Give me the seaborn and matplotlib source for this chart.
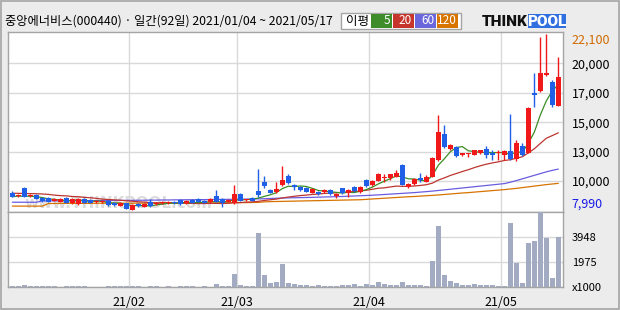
import numpy as np
import pandas as pd
import matplotlib
matplotlib.use("Agg")
import matplotlib.pyplot as plt
import seaborn as sns
from matplotlib import transforms
from matplotlib.patches import Rectangle

# ---------------- data ----------------
title = "중앙에너비스(000440) · 일간(92일) 2021/01/04 ~ 2021/05/17"

opens = [9410, 9150, 9790, 9130, 9250, 9010, 9010, 8770, 8670, 8970,
         8560, 8510, 8890, 8830, 8650, 8670, 8770, 8610, 8370, 8560,
         8030, 8490, 8290, 8690, 8510, 8550, 8560, 8690, 8830, 8560,
         8830, 8890, 8770, 8650, 9150, 8890, 8690, 8560, 9310, 8800,
         8970, 9550, 10240, 9630, 9490, 10030, 10750, 10030, 9890, 9810,
         9410, 9470, 9470, 9630, 9150, 9760, 9360, 9840, 9470, 10430,
         10030, 10370, 10560, 10550, 10680, 11630, 9840, 10110, 10590, 10290,
         10690, 12030, 14100, 12880, 13090, 12430, 12520, 12430, 12560, 12930,
         12610, 12590, 12430, 12770, 12080, 13170, 12610, 17400, 17540, 18820,
         18230, 16360]
highs = [9570, 9270, 9890, 9270, 9310, 9070, 9070, 8950, 8950, 9030,
         8950, 8950, 8950, 8870, 8790, 8790, 8830, 8670, 8630, 8590,
         8510, 8550, 8550, 8890, 8670, 8710, 8750, 8750, 8870, 8790,
         8870, 8950, 8830, 8950, 9630, 8950, 8870, 10030, 9350, 8910,
         9030, 11310, 10770, 9710, 10240, 11550, 10910, 10110, 9950, 9870,
         9750, 9510, 9670, 9670, 9350, 9790, 9680, 9910, 9910, 10510,
         10430, 10990, 10910, 10910, 11230, 11670, 10150, 10590, 11000, 10790,
         12270, 15620, 14820, 13300, 13140, 12620, 12610, 12860, 12860, 13140,
         12820, 12820, 12820, 15700, 13620, 13360, 16260, 18950, 21880, 22100,
         18420, 20250]
lows = [9050, 9070, 9050, 9070, 8870, 8670, 8630, 8710, 8630, 8550,
        8510, 8430, 8550, 8550, 8590, 8590, 8350, 8350, 8310, 8070,
        7990, 8270, 8270, 8270, 8430, 8510, 8510, 8470, 8430, 8510,
        8550, 8630, 8550, 8590, 8630, 8230, 8630, 8510, 8710, 8750,
        8710, 9090, 9760, 9350, 9360, 9950, 10110, 9630, 9510, 9430,
        9350, 9230, 9390, 9230, 8990, 9310, 9090, 9470, 9390, 9830,
        9910, 10310, 10290, 10430, 10630, 9990, 9790, 10030, 10290, 10230,
        10630, 11950, 13020, 12820, 12300, 12350, 12240, 12390, 12500, 12160,
        12030, 12030, 12030, 12030, 11970, 12350, 12560, 16240, 17460, 18740,
        16280, 16340]
closes = [9090, 9200, 9070, 9180, 8930, 8730, 8690, 8890, 8890, 8610,
          8890, 8890, 8610, 8610, 8750, 8750, 8410, 8430, 8560, 8110,
          8430, 8350, 8490, 8350, 8610, 8670, 8690, 8560, 8510, 8750,
          8610, 8690, 8610, 8890, 8690, 8560, 8830, 9290, 8770, 8850,
          8770, 9230, 9970, 9410, 9680, 10430, 10160, 9840, 9630, 9490,
          9680, 9310, 9630, 9290, 9310, 9360, 9630, 9520, 9840, 9950,
          10350, 10910, 10610, 10870, 11000, 10030, 10110, 10510, 10430, 10680,
          12160, 14260, 13090, 13220, 12370, 12560, 12570, 12820, 12820, 12430,
          12430, 12630, 12770, 12080, 13360, 12430, 16200, 17190, 18950, 19000,
          16420, 18680]
# volume, thousand shares
volumes = [80, 70, 180, 70, 80, 70, 70, 70, 60, 70,
           70, 80, 70, 60, 60, 60, 70, 70, 70, 80,
           80, 70, 60, 80, 70, 60, 70, 60, 70, 70,
           70, 60, 70, 60, 260, 100, 90, 1050, 185, 100,
           100, 4290, 970, 340, 420, 1840, 340, 260, 185, 185,
           100, 185, 100, 100, 100, 185, 185, 260, 100, 260,
           185, 420, 260, 185, 185, 420, 185, 185, 185, 100,
           2080, 4840, 970, 500, 340, 185, 185, 260, 185, 185,
           185, 100, 80, 5080, 1950, 340, 3500, 3660, 5923, 3900,
           740, 3970]
# 20-day average for the first 19 sessions (needs earlier data)
ma20_early = [9370, 9360, 9350, 9340, 9330, 9310, 9280, 9220, 9180, 9160,
              9110, 9090, 9040, 9010, 8960, 8900, 8870, 8840, 8810]
ma60 = [8650, 8650, 8650, 8650, 8650,
        8750, 8760, 8760, 8760, 8770, 8770, 8770, 8780, 8780, 8780, 8790,
        8790, 8790, 8800, 8800, 8800,
        8810, 8810, 8820, 8820, 8830, 8830, 8840, 8840, 8850, 8850,
        8860, 8860, 8870, 8870, 8880, 8880, 8890, 8900, 8900, 8910,
        8920, 8930, 8950, 8970, 8990, 9000, 9010, 9020, 9030, 9040,
        9060, 9070, 9080, 9100, 9110, 9130, 9150, 9170, 9190, 9210,
        9240, 9270, 9300, 9330, 9360, 9390, 9420, 9460, 9500, 9540,
        9590, 9640, 9690, 9740, 9790, 9840, 9890, 9940, 9990, 10040,
        10090, 10140, 10250, 10380, 10520, 10660, 10800, 10940, 11080, 11200,
        11300]
ma120 = [8340, 8340, 8340, 8340, 8340, 8340,
         8550, 8550, 8560, 8560, 8560, 8560, 8560, 8560, 8570, 8570,
         8570, 8570, 8570, 8570, 8570, 8580, 8580, 8580, 8580, 8580,
         8580, 8590, 8590, 8590, 8590, 8590, 8590, 8590,
         8600, 8600, 8610, 8610, 8620, 8620, 8630, 8640, 8680,
         8700, 8710, 8720, 8730, 8740, 8750,
         8760, 8770, 8780, 8790, 8800, 8810, 8820, 8830, 8840, 8850,
         8880, 8910, 8940, 8970, 9000, 9030,
         9060, 9090, 9110, 9140, 9170, 9200,
         9230, 9270, 9310, 9350, 9390, 9420, 9460, 9500, 9540, 9580,
         9620, 9660, 9710, 9760, 9820, 9880, 9940, 10000, 10060, 10110,
         10160]

month_start = [20, 38, 60, 82]
month_labels = ["21/02", "21/03", "21/04", "21/05"]
price_tick_labels = ["10,000", "13,000", "15,000", "17,000", "20,000"]
hi_label = "22,100"
lo_label = "7,990"
vol_tick_labels = ["x1000", "1975", "3948"]
ma_names = ["5", "20", "60", "120"]

# ---------------- styling ----------------
sns.set_style("white")
plt.rcParams['font.family'] = ['Noto Sans CJK KR', 'DejaVu Sans']

BG = '#ECECEC'
FRAME = '#A4A4A4'
GRID = '#D9D9D9'
UP = '#F01818'
DOWN = '#1F60E6'
VOLC = '#A2ABC2'
MA_COL = ['#3C8C26', '#BE3530', '#6A5CDF', '#D77300']
BOX_COL = ['#3E8C2A', '#C6352B', '#6A66DC', '#D87400']

W, H = 620, 310
fig = plt.figure(figsize=(W / 100, H / 100), dpi=100, facecolor=BG)

def fx(px):
    return px / W

def fy(py):
    return 1 - py / H

L, R = 8.3, 563.3
ax = fig.add_axes([fx(L), fy(212.3), (R - L) / W, (212.3 - 31.7) / H])
axv = fig.add_axes([fx(L), fy(287.3), (R - L) / W, (287.3 - 212.3) / H], sharex=ax)

idx = np.arange(len(closes))
o = np.array(opens, float); c = np.array(closes, float)
h = np.array(highs, float); lw_ = np.array(lows, float)

# moving averages
cs = pd.Series(closes, dtype=float)
ma5 = cs.rolling(5, min_periods=1).mean().values
ma20 = cs.rolling(20).mean().values
ma20[:len(ma20_early)] = ma20_early
ma_series = [ma5, ma20, np.array(ma60, float), np.array(ma120, float)]

lo, hi = lw_.min(), h.max()
rng = hi - lo

# ---- price panel ----
ax.set_facecolor('white')
ax.set_axisbelow(True)
ax.text(0.03, 0.005, "www.THINKPOOL.com", transform=ax.transAxes, fontsize=11,
        color='#DCDCDC', fontweight='bold', family='DejaVu Sans', zorder=0.5,
        va='bottom', ha='left')

for k, (m, col) in enumerate(zip(ma_series, MA_COL)):
    sns.lineplot(x=idx, y=m, ax=ax, color=col, lw=0.9, zorder=2 + (3 - k) * 0.1)

up = c >= o
colors = np.where(up, UP, DOWN)
ax.vlines(idx, lw_, h, colors=colors, lw=1.0, zorder=3)
body_bot = np.minimum(o, c)
body_h = np.maximum(np.abs(c - o), rng / 176.5)
ax.bar(idx, body_h, bottom=body_bot, width=0.8, color=colors, linewidth=0, zorder=4)

ax.set_ylim(lo - 0.0102 * rng, hi + 0.013 * rng)
ax.set_xlim(-0.67, len(closes) - 0.17)
grid_vals = [lo + rng * k / 6 for k in range(1, 6)]
ax.set_yticks(grid_vals)
ax.set_yticklabels(price_tick_labels)
ax.yaxis.tick_right()
ax.tick_params(axis='y', length=0, pad=6, labelsize=9, labelcolor='black')
ax.set_xticks([m - 0.5 for m in month_start])
ax.tick_params(axis='x', length=0, labelbottom=False)
ax.grid(True, color=GRID, lw=1)
for s in ax.spines.values():
    s.set_color(FRAME); s.set_linewidth(1)

bt = transforms.blended_transform_factory(fig.transFigure, ax.transData)
fig.text(fx(571.7), hi, hi_label, transform=bt, color='#D06A00', fontsize=9,
         va='top', ha='left')
fig.text(fx(571.7), lo, lo_label, transform=bt, color='#1A1AE6', fontsize=9,
         va='bottom', ha='left')

# ---- volume panel ----
axv.set_facecolor('white')
axv.set_axisbelow(True)
sns.barplot(x=idx, y=volumes, native_scale=True, color=VOLC, saturation=1,
            width=0.78, linewidth=0, ax=axv, zorder=3)
vmax = max(volumes)
axv.set_ylim(0, vmax)
axv.set_yticks([0, vmax / 3, 2 * vmax / 3])
axv.set_yticklabels(vol_tick_labels)
axv.yaxis.tick_right()
axv.tick_params(axis='y', length=0, pad=6, labelsize=8, labelcolor='black')
axv.set_xticks([m - 0.5 for m in month_start])
axv.set_xticklabels(month_labels)
axv.tick_params(axis='x', length=0, pad=6, labelsize=9, labelcolor='black')
axv.set_xlim(-0.67, len(closes) - 0.17)
axv.grid(True, color=GRID, lw=1)
axv.set_xlabel(""); axv.set_ylabel("")
ax.set_xlabel(""); ax.set_ylabel("")
for s in axv.spines.values():
    s.set_color(FRAME); s.set_linewidth(1)

# ---- header ----
fig.text(fx(5), fy(21), title, fontsize=8.8, va='center', ha='left', color='black')

# MA legend box
fig.patches.append(Rectangle((fx(340.7), fy(29.3)), (461 - 340.7) / W, (29.3 - 12.7) / H,
                             transform=fig.transFigure, facecolor='white',
                             edgecolor=FRAME, lw=1))
fig.text(fx(346), fy(21), "이평", fontsize=9, va='center', ha='left', color='black')
box_x = [(371, 391.5), (393, 413.5), (415.3, 435.7), (437.3, 458.3)]
for (x0, x1), col, name in zip(box_x, BOX_COL, ma_names):
    fig.patches.append(Rectangle((fx(x0), fy(27.7)), (x1 - x0) / W, (27.7 - 14) / H,
                                 transform=fig.transFigure, facecolor=col, lw=0))
    fig.text(fx(x1 - 1.5), fy(21), name, fontsize=8.5, color='white',
             va='center', ha='right')

# THINKPOOL logo
fig.text(fx(482), fy(21.5), "THINK", fontsize=11, fontweight='heavy',
         family='Roboto', color='#111111', va='center', ha='left')
fig.patches.append(Rectangle((fx(527.5), fy(28.3)), (565.5 - 527.5) / W, (28.3 - 14.0) / H,
                             transform=fig.transFigure, facecolor='#2F6FE0', lw=0))
fig.text(fx(546.5), fy(21.5), "POOL", fontsize=11, fontweight='heavy',
         family='Roboto', color='white', va='center', ha='center')

# outer frame
fig.patches.append(Rectangle((fx(0.8), fy(309.2)), (619.2 - 0.8) / W, (309.2 - 0.8) / H,
                             transform=fig.transFigure, fill=False,
                             edgecolor=FRAME, lw=1.2))

fig.savefig("out.png", dpi=100, facecolor=BG)
